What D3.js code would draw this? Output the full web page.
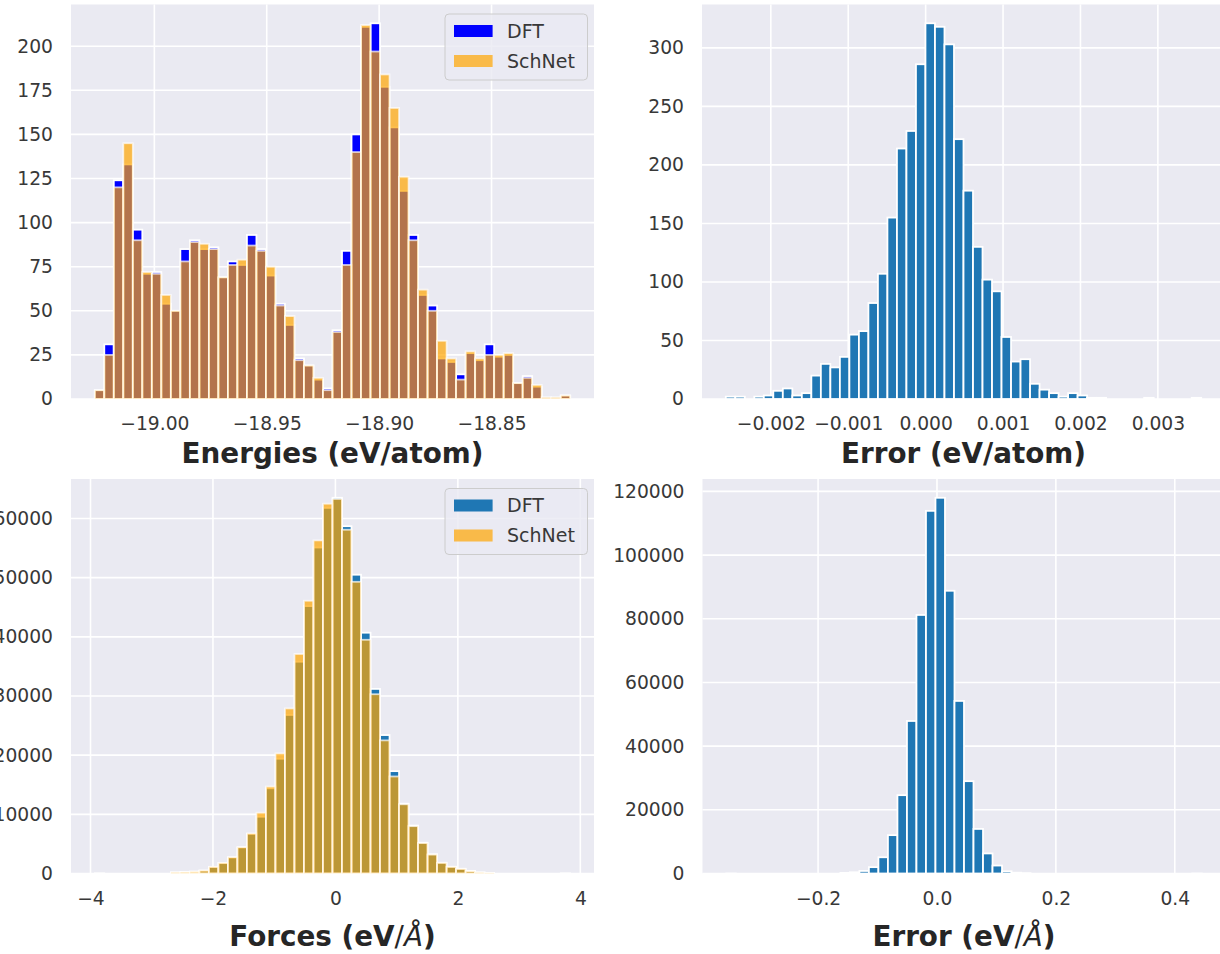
<!DOCTYPE html>
<html><head><meta charset="utf-8">
<script src="https://cdn.jsdelivr.net/npm/d3@7"></script>
<style>body{margin:0;background:#fff}svg{display:block}text{font-family:"DejaVu Sans",sans-serif}</style>
</head><body>
<svg id="c" width="1220" height="954"></svg>
<script>
// ---------- data ----------
const nBins = 50;

// Panel 1: energies histogram (eV/atom)
const energyRange = [-19.0265, -18.8150];
const energyDFT = [5,31,124,133,96,71,72,54,50,85,90,85,86,69,78,76,93,85,70,54,42,23,19,11,6,39,84,150,211,213,177,154,118,93,59,53,23,21,14,26,22,31,24,25,9,13,7,0,0,2];
const energySchNet = [5,25,120,145,90,72,71,59,50,78,89,88,85,69,76,79,87,84,75,53,47,22,19,12,5,38,76,140,212,197,184,165,126,90,62,50,33,23,11,27,23,25,25,26,9,12,8,1,1,2];
const energyTicksX = [-19.00,-18.95,-18.90,-18.85];
const energyTicksY = [0,25,50,75,100,125,150,175,200];

// Panel 2: energy error histogram
const energyErrRange = [-0.002582, 0.003560];
const energyErr = [2,2,0,2,3,7,9,3,5,20,30,27,36,55,58,82,107,155,214,229,286,321,318,303,222,178,130,102,92,53,32,34,13,8,5,2,5,3,1,1,0,0,0,0,1,0,0,0,0,1];
const energyErrTicksX = [-0.002,-0.001,0.000,0.001,0.002,0.003];
const energyErrTicksY = [0,50,100,150,200,250,300];

// Panel 3: forces histogram (eV/Å)
const forceRange = [-3.930, 3.835];
const forceDFT = [1,0,0,0,0,0,0,0,180,230,300,480,1080,1750,2700,4400,6700,9600,14400,19400,26800,35800,45200,55100,61800,63500,58700,50500,40700,31200,23400,17300,11800,8100,5200,3250,1820,1140,800,410,180,100,0,0,0,0,0,0,0,1];
const forceSchNet = [1,0,0,0,0,0,0,0,200,250,330,520,1130,1800,2770,4460,6780,10280,14700,20300,27900,37100,46100,56300,62500,63300,58100,49300,39500,30300,22500,16400,11700,8000,5150,3200,1800,1120,780,400,170,110,0,0,0,0,0,0,0,1];
const forceTicksX = [-4,-2,0,2,4];
const forceTicksY = [0,10000,20000,30000,40000,50000,60000];

// Panel 4: force error histogram
const forceErrRange = [-0.3544, 0.4453];
const forceErr = [1,0,0,0,0,0,0,0,0,0,0,0,200,380,800,2000,5100,12050,24600,47900,81200,113900,118000,88800,54200,29000,14000,6300,2500,700,250,100,0,0,0,0,0,0,0,0,0,0,0,0,0,0,0,0,0,1];
const forceErrTicksX = [-0.2,0.0,0.2,0.4];
const forceErrTicksY = [0,20000,40000,60000,80000,100000,120000];

const seriesNames = ["DFT","SchNet"];

// ---------- drawing ----------
const svg = d3.select("#c");
const BG = "#eaeaf2", TXT = "#383838";

function drawPanel(cfg){
  const g = svg.append("g");
  const [lo, hi] = cfg.range;
  const pad = (hi - lo) * 0.05;
  const bw = (hi - lo) / nBins;
  const ymax = d3.max(cfg.series.flatMap(s => s.values)) * 1.05;
  const x = d3.scaleLinear().domain([lo - pad, hi + pad]).range([cfg.x0, cfg.x0 + cfg.w]);
  const y = d3.scaleLinear().domain([0, ymax]).range([cfg.y0 + cfg.h, cfg.y0]);

  g.append("rect").attr("x", cfg.x0).attr("y", cfg.y0).attr("width", cfg.w).attr("height", cfg.h).attr("fill", BG);
  // grid
  g.selectAll(".gx").data(cfg.ticksX).join("line")
    .attr("x1", d => x(d)).attr("x2", d => x(d)).attr("y1", cfg.y0).attr("y2", cfg.y0 + cfg.h)
    .attr("stroke", "#fff").attr("stroke-width", 1.6);
  g.selectAll(".gy").data(cfg.ticksY).join("line")
    .attr("x1", cfg.x0).attr("x2", cfg.x0 + cfg.w).attr("y1", d => y(d)).attr("y2", d => y(d))
    .attr("stroke", "#fff").attr("stroke-width", 1.6);

  // bars
  cfg.series.forEach(s => {
    const bins = s.values.map((v, i) => ({a: lo + i * bw, b: lo + (i + 1) * bw, v}));
    g.append("g").selectAll("rect").data(bins.filter(d => d.v > 0)).join("rect")
      .attr("x", d => x(d.a)).attr("width", d => x(d.b) - x(d.a))
      .attr("y", d => y(d.v)).attr("height", d => y(0) - y(d.v))
      .attr("fill", s.color).attr("fill-opacity", s.alpha)
      .attr("stroke", "#fff").attr("stroke-opacity", s.alpha).attr("stroke-width", 1.8);
  });

  // axes
  const ax = g.append("g").attr("transform", `translate(0,${cfg.y0 + cfg.h})`)
    .call(d3.axisBottom(x).tickValues(cfg.ticksX).tickFormat(cfg.fmtX).tickSize(0).tickPadding(cfg.padX));
  const ay = g.append("g").attr("transform", `translate(${cfg.x0},0)`)
    .call(d3.axisLeft(y).tickValues(cfg.ticksY).tickFormat(d3.format("d")).tickSize(0).tickPadding(18));
  [ax, ay].forEach(a => {
    a.select(".domain").remove();
    a.selectAll("text").attr("fill", TXT).style("font-size", "18.7px").style("font-family", "DejaVu Sans");
  });

  // xlabel
  const t = g.append("text").attr("x", cfg.x0 + cfg.w / 2).attr("y", cfg.titleY)
    .attr("text-anchor", "middle").attr("fill", "#262626").style("font-size", "27.8px");
  cfg.title.forEach(p => {
    t.append("tspan").text(p.t).style("font-weight", p.w || "bold").style("font-style", p.s || "normal");
  });

  // legend
  if (cfg.legend) {
    const lx = cfg.x0 + 374, ly = cfg.y0 + 9.5;
    const lg = g.append("g");
    lg.append("rect").attr("x", lx).attr("y", ly).attr("width", 142.5).attr("height", 66)
      .attr("rx", 4).attr("fill", BG).attr("fill-opacity", 0.8).attr("stroke", "#cccccc").attr("stroke-width", 1);
    cfg.series.forEach((s, i) => {
      const cy = ly + 17 + i * 30;
      lg.append("rect").attr("x", lx + 9).attr("y", cy - 6).attr("width", 38.6).attr("height", 12)
        .attr("fill", s.color).attr("fill-opacity", s.alpha);
      lg.append("text").attr("x", lx + 62).attr("y", cy).attr("dy", "0.36em")
        .attr("fill", TXT).style("font-size", "19px").text(seriesNames[i]);
    });
  }
}

const W = 523, H = 394.5;
drawPanel({x0: 71, y0: 4.5, w: W, h: H, range: energyRange,
  series: [{values: energyDFT, color: "#0000ff", alpha: 1}, {values: energySchNet, color: "#ffa500", alpha: 0.7}],
  ticksX: energyTicksX, ticksY: energyTicksY, fmtX: d3.format(".2f"), padX: 17.5,
  title: [{t: "Energies (eV/atom)"}], titleY: 463, legend: true});

drawPanel({x0: 702, y0: 4.5, w: W, h: H, range: energyErrRange,
  series: [{values: energyErr, color: "#1f77b4", alpha: 1}],
  ticksX: energyErrTicksX, ticksY: energyErrTicksY, fmtX: d3.format(".3f"), padX: 17.5,
  title: [{t: "Error (eV/atom)"}], titleY: 463, legend: false});

drawPanel({x0: 71, y0: 479, w: W, h: H, range: forceRange,
  series: [{values: forceDFT, color: "#1f77b4", alpha: 1}, {values: forceSchNet, color: "#ffa500", alpha: 0.7}],
  ticksX: forceTicksX, ticksY: forceTicksY, fmtX: d3.format("d"), padX: 18.5,
  title: [{t: "Forces (eV"}, {t: "/", w: "normal"}, {t: "Å", w: "normal", s: "italic"}, {t: ")"}], titleY: 946, legend: true});

drawPanel({x0: 702.5, y0: 479, w: W, h: H, range: forceErrRange,
  series: [{values: forceErr, color: "#1f77b4", alpha: 1}],
  ticksX: forceErrTicksX, ticksY: forceErrTicksY, fmtX: d3.format(".1f"), padX: 18.5,
  title: [{t: "Error (eV"}, {t: "/", w: "normal"}, {t: "Å", w: "normal", s: "italic"}, {t: ")"}], titleY: 946, legend: false});
</script>
</body></html>
